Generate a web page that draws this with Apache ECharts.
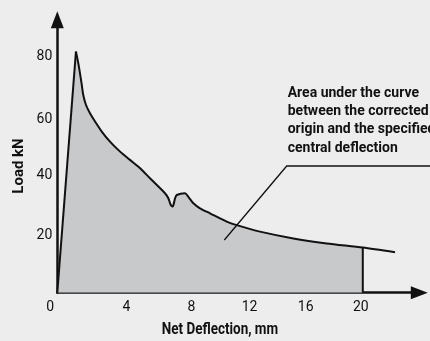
<!DOCTYPE html>
<html>
<head>
<meta charset="utf-8">
<script src="https://cdn.jsdelivr.net/npm/echarts@6/dist/echarts.min.js"></script>
<style>
  html, body { margin: 0; padding: 0; background: #ecedec; }
  #chart { width: 430px; height: 341px; }
</style>
</head>
<body>
<div id="chart"></div>
<script>
// Load–deflection curve (net deflection in mm, load in kN)
const deflection = [0, 1.22, 1.40, 1.60, 1.70, 1.88, 2.14, 2.47, 2.91, 3.45, 4.11, 4.76, 5.42, 6.10, 7.05, 7.27, 7.43, 7.56, 7.71, 7.82, 8.36, 8.58, 8.91, 9.34, 10.0, 11.09, 11.75, 13.27, 15.45, 17.64, 20, 22.11];
const load = [0, 81.7, 77.0, 70.5, 67.0, 63.6, 60.8, 58.0, 54.6, 51.2, 47.8, 45.0, 42.2, 38.6, 33.7, 32.0, 29.7, 29.2, 32.0, 33.1, 33.7, 32.5, 30.3, 28.6, 26.9, 24.1, 22.9, 20.7, 18.4, 16.7, 15.3, 13.7];
// Deflection limit for the shaded energy area
const specifiedDeflection = 20;
const xTickStep = 4;
const yTickStep = 20;
const xTitle = 'Net Deflection, mm';
const yTitle = 'Load kN';
const noteLines = ['Area under the curve', 'between the corrected', 'origin and the specified', 'central deflection'];

const FONT = "Roboto, 'Liberation Sans', sans-serif";
const INK = '#111111';

const curve = deflection.map((x, i) => [x, load[i]]);
const shaded = curve.filter(p => p[0] <= specifiedDeflection);
const limitLoad = load[deflection.indexOf(specifiedDeflection)];
// split at the peak: straight elastic rise, smooth softening branch
const peakIdx = load.indexOf(Math.max(...load));
const rise = curve.slice(0, peakIdx + 1);
const softening = curve.slice(peakIdx);

// hand-set nudges of the tick labels (px; x: + = right, y: + = down)
const xLabelNudge = { 0: -7, 4: 8, 8: 12, 12: 9, 16: 4, 20: -2 };
const yLabelNudge = { 20: 2, 40: 1.3, 60: 3.5, 80: 0 };
function nudgeRich(map, horizontal) {
  const rich = {};
  Object.keys(map).forEach(k => {
    const s = map[k];
    let padding;
    if (horizontal) padding = s >= 0 ? [0, 0, 0, 2 * s] : [0, -2 * s, 0, 0];
    else padding = s >= 0 ? [2 * s, 0, 0, 0] : [0, 0, -2 * s, 0];
    rich['t' + k] = { color: INK, fontFamily: FONT, fontSize: 14, padding: padding };
  });
  return rich;
}

const chart = echarts.init(document.getElementById('chart'), null, { renderer: 'canvas' });

const axisLine = {
  show: true,
  symbol: ['none', 'triangle'],
  symbolSize: [13, 17],
  lineStyle: { color: INK, width: 2.5 }
};
const curveStyle = { color: INK, width: 2 };

chart.setOption({
  backgroundColor: '#ecedec',
  animation: false,
  grid: { left: 57.3, right: 10.7, top: 19.7, bottom: 48.3 },
  xAxis: {
    type: 'value',
    min: 0,
    max: 23.7,
    interval: xTickStep,
    axisLine: axisLine,
    axisTick: { show: false },
    splitLine: { show: false },
    axisLabel: {
      showMaxLabel: false,
      margin: 8,
      formatter: v => '{t' + v + '|' + v + '}',
      rich: nudgeRich(xLabelNudge, true)
    }
  },
  yAxis: {
    type: 'value',
    min: 0,
    max: 92.5,
    interval: yTickStep,
    axisLine: axisLine,
    axisTick: { show: false },
    splitLine: { show: false },
    axisLabel: {
      showMinLabel: false,
      showMaxLabel: false,
      margin: 5,
      formatter: v => '{t' + v + '|' + v + '}',
      rich: nudgeRich(yLabelNudge, false)
    }
  },
  series: [
    {
      // shaded area up to the specified deflection
      type: 'line',
      data: shaded,
      symbol: 'none',
      lineStyle: { width: 0 },
      areaStyle: { color: '#c8c9cb', opacity: 1 },
      z: 1
    },
    {
      type: 'line',
      data: rise,
      symbol: 'none',
      lineStyle: curveStyle,
      z: 3
    },
    {
      type: 'line',
      data: softening,
      symbol: 'none',
      smooth: 0.25,
      lineStyle: curveStyle,
      z: 3
    },
    {
      // closing edge of the shaded area
      type: 'line',
      data: [[specifiedDeflection, 0], [specifiedDeflection, limitLoad]],
      symbol: 'none',
      lineStyle: curveStyle,
      z: 3
    }
  ],
  graphic: [
    // axis titles, set in a narrowed bold face
    {
      type: 'text',
      x: 220, y: 330,
      scaleX: 0.84,
      style: {
        text: xTitle, fill: INK, font: 'bold 16px ' + FONT,
        align: 'center', verticalAlign: 'middle'
      }
    },
    {
      type: 'text',
      x: 19, y: 166,
      rotation: Math.PI / 2,
      style: {
        text: yTitle, fill: INK, font: 'bold 15px ' + FONT,
        align: 'center', verticalAlign: 'middle'
      }
    },
    // callout for the shaded area
    {
      type: 'polyline',
      shape: { points: [[224.3, 240], [286.7, 166], [432, 166]] },
      style: { stroke: INK, lineWidth: 1.3, fill: null },
      z: 10
    },
    {
      type: 'text',
      x: 287.7, y: 84.2,
      style: {
        text: noteLines.join('\n'),
        fill: INK,
        font: 'bold 14px ' + FONT,
        lineHeight: 18.3
      },
      z: 10
    }
  ]
});
</script>
</body>
</html>
